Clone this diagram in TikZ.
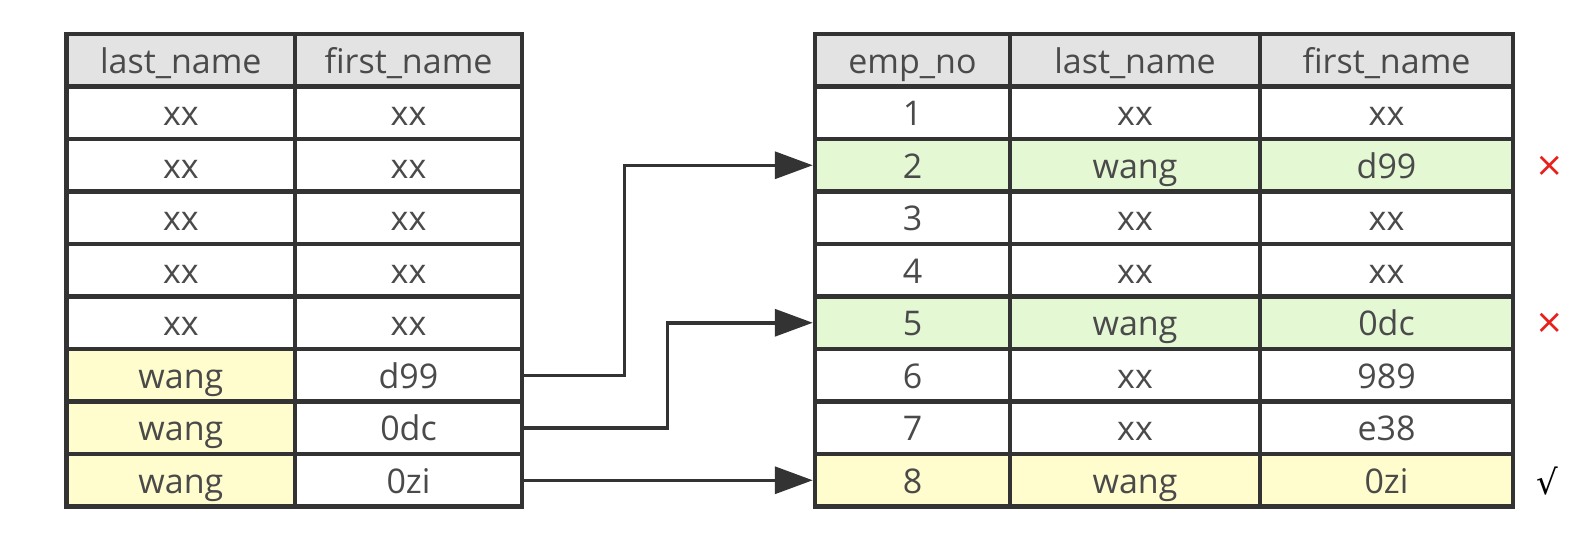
\documentclass[tikz,border=0pt]{standalone}
\usepackage{fontspec}
\setmainfont{Open Sans}
\newfontfamily\symfont{DejaVu Sans}
\usetikzlibrary{arrows.meta}
\definecolor{bordc}{HTML}{333333}
\definecolor{txtc}{HTML}{4A4A4A}
\definecolor{hdr}{HTML}{E3E3E3}
\definecolor{grn}{HTML}{E4F8D4}
\definecolor{ylw}{HTML}{FFFDCD}
\definecolor{redx}{HTML}{E8201C}
\begin{document}
\begin{tikzpicture}[x=0.5pt,y=-0.5pt,
  cellbox/.style={draw=bordc,line width=2.25pt,inner sep=0pt,minimum height=26.25pt,
    text=txtc,font=\fontsize{17}{20}\selectfont,text height=14pt,text depth=1pt},
  arr/.style={draw=bordc,line width=1.75pt,-{Triangle[length=19pt,width=13.5pt]}},
  tickmark/.style={font=\symfont\fontsize{17}{20}\selectfont}]
\useasboundingbox (0,0) rectangle (1596,554);
% left table
\foreach \r/\a/\b/\fa/\fb in {0/last\_name/first\_name/hdr/hdr,1/xx/xx/white/white,2/xx/xx/white/white,3/xx/xx/white/white,4/xx/xx/white/white,5/xx/xx/white/white,6/wang/d99/ylw/white,7/wang/0dc/ylw/white,8/wang/0zi/ylw/white}{
  \node[cellbox,fill=\fa,minimum width=114.15pt] (L\r-a) at (180.85,{60.25+52.5*\r}) {\a};
  \node[cellbox,fill=\fb,minimum width=113.5pt] (L\r-b) at (408.5,{60.25+52.5*\r}) {\b};
}
% right table
\foreach \r/\a/\b/\c/\f in {0/emp\_no/last\_name/first\_name/hdr,1/1/xx/xx/white,2/2/wang/d99/grn,3/3/xx/xx/white,4/4/xx/xx/white,5/5/wang/0dc/grn,6/6/xx/989/white,7/7/xx/e38/white,8/8/wang/0zi/ylw}{
  \node[cellbox,fill=\f,minimum width=97.5pt] (R\r-a) at (912.5,{60.25+52.5*\r}) {\a};
  \node[cellbox,fill=\f,minimum width=125pt] (R\r-b) at (1135,{60.25+52.5*\r}) {\b};
  \node[cellbox,fill=\f,minimum width=126.5pt] (R\r-c) at (1386.5,{60.25+52.5*\r}) {\c};
}
% connectors
\draw[arr] (L6-b.east) -- ++(100,0) |- (R2-a.west);
\draw[arr] (L7-b.east) -- ++(143,0) |- (R5-a.west);
\draw[arr] (L8-b.east) -- (R8-a.west);
% marks
\node[tickmark,text=redx] (m2) at (1550,166) {×};
\node[tickmark,text=redx] (m5) at (1550,323) {×};
\node[tickmark,text=black] (m8) at (1547,481) {√};
\end{tikzpicture}
\end{document}
